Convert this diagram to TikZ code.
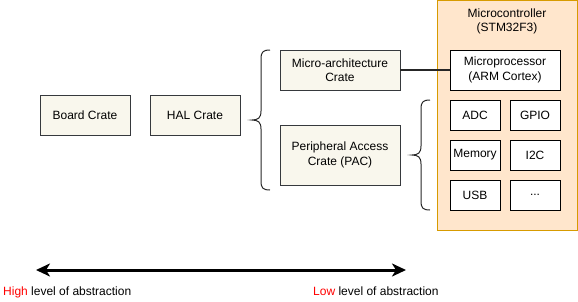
\documentclass[tikz,border=0pt]{standalone}
\usepackage{fontspec}
\setmainfont{Liberation Sans}
\usetikzlibrary{arrows.meta}
\definecolor{crfill}{HTML}{F9F7ED}
\definecolor{crdraw}{HTML}{36393D}
\definecolor{mcfill}{HTML}{FFE6CC}
\definecolor{mcdraw}{HTML}{D79B00}
\tikzset{
  txt/.style={font=\fontsize{12}{14.5}\selectfont, align=center, text=black},
  crate/.style={txt, draw=crdraw, fill=crfill, line width=1pt, inner sep=0pt, outer sep=0pt},
  part/.style={txt, draw=black, fill=white, line width=1pt, inner sep=0pt, outer sep=0pt},
  bracepath/.style={draw=black!85, line width=1pt},
}
\begin{document}
\begin{tikzpicture}[x=1pt,y=-1pt]
\useasboundingbox (0,0) rectangle (578,301);
% microcontroller container
\node[draw=mcdraw, fill=mcfill, line width=1pt, minimum width=140pt, minimum height=229.5pt, inner sep=0pt, outer sep=0pt] (mcu) at (507,115.25) {};
\node[txt] (mcutitle) at (507,21.5) {Microcontroller\\(STM32F3)};
% crates
\node[crate, minimum width=90pt, minimum height=40pt] (board) at (85,115) {Board Crate};
\node[crate, minimum width=90pt, minimum height=40pt] (hal) at (195,115) {HAL Crate};
\node[crate, minimum width=120pt, minimum height=40pt] (march) at (340,70) {Micro-architecture\\Crate};
\node[crate, minimum width=120pt, minimum height=60pt] (pac) at (340,155) {Peripheral Access\\Crate (PAC)};
% parts
\node[part, minimum width=110pt, minimum height=40pt] (mproc) at (505,70) {Microprocessor\\(ARM Cortex)};
\node[part, minimum width=50pt, minimum height=30pt] (adc) at (475,115) {ADC};
\node[part, minimum width=50pt, minimum height=30pt] (gpio) at (535,115) {GPIO};
\node[part, minimum width=50pt, minimum height=30pt] (mem) at (475,155) {Memory};
\node[part, minimum width=50pt, minimum height=30pt] (i2c) at (535,155) {I2C};
\node[part, minimum width=50pt, minimum height=30pt] (usb) at (475,195) {USB};
\node[part, minimum width=50pt, minimum height=30pt] (more) at (535,195) {...};
% connector
\draw[line width=2pt, black!85] (march.east) -- (mproc.west);
% braces
\draw[bracepath] (270,50) .. controls (263,50) and (261,52) .. (261,59) -- (261,111)
  .. controls (261,118) and (258,120) .. (252,120)
  .. controls (258,120) and (261,122) .. (261,129) -- (261,181)
  .. controls (261,188) and (263,190) .. (270,190);
\draw[bracepath] (430,100) .. controls (423,100) and (421,102) .. (421,109) -- (421,146)
  .. controls (421,153) and (418,155) .. (412,155)
  .. controls (418,155) and (421,157) .. (421,164) -- (421,201)
  .. controls (421,208) and (423,210) .. (430,210);
% abstraction arrow
\coordinate (aL) at (36,270);
\coordinate (aR) at (406,270);
\draw[line width=3pt, {Stealth[length=14pt,width=13pt,inset=4pt]}-{Stealth[length=14pt,width=13pt,inset=4pt]}] (aL) -- (aR);
\node[txt, anchor=base west, inner sep=0pt] (high) at (3,295) {\textcolor{red}{High} level of abstraction};
\node[txt, anchor=base west, inner sep=0pt] (low) at (313,295) {\textcolor{red}{Low} level of abstraction};
\end{tikzpicture}
\end{document}
